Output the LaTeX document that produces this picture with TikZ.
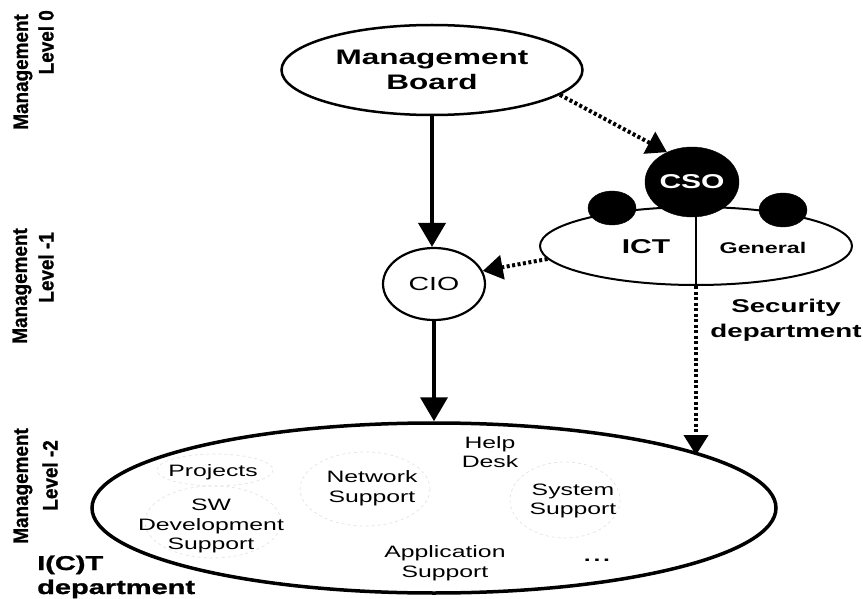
\documentclass[tikz,border=0pt]{standalone}
\usepackage{fontspec}
\setmainfont{Liberation Sans}
\newfontfamily\widesans[FakeStretch=1.5]{Liberation Sans}
\newfontfamily\heavysans[FakeStretch=1.45, FakeBold=1.2]{Liberation Sans Bold}
\newfontfamily\narrowsans[FakeStretch=0.9, FakeBold=0.8]{Liberation Sans Bold}
\usetikzlibrary{arrows.meta,shapes.geometric}

\tikzset{
  unit/.style={ellipse, draw, inner sep=0pt},
  solidarrow/.style={line width=4pt, -{Triangle[length=24pt,width=27pt]}},
  dotarrow/.style={line width=4pt, dash pattern=on 3pt off 2.5pt,
                   -{Triangle[length=20pt,width=24pt]}},
  lvl/.style={rotate=90, anchor=east, inner sep=0pt,
              font=\narrowsans\fontsize{21}{24}\selectfont},
  inner/.style={align=center, inner sep=0pt,
                font=\widesans\fontsize{16.5}{19.5}\selectfont},
  group/.style={draw=black!11, line width=0.7pt, dashed},
  deptlabel/.style={anchor=base west, inner sep=0pt,
                    font=\heavysans\fontsize{20}{24}\selectfont},
}

\begin{document}
\begin{tikzpicture}[x=1pt, y=-1pt]
\path[use as bounding box] (0,0) rectangle (863,599);

% management levels on the left
\node[lvl] (m0)  at (23,14)  {Management};
\node[lvl] (l0)  at (46,10)  {Level 0};
\node[lvl] (m1)  at (22,228) {Management};
\node[lvl] (l1)  at (46,232) {Level -1};
\node[lvl] (m2)  at (23,428) {Management};
\node[lvl] (l2)  at (50,440) {Level -2};

% I(C)T department
\node[unit, line width=3.5pt, minimum width=684pt, minimum height=170pt] (dept) at (434,508) {};
\draw[group] (215,470) ellipse [x radius=58, y radius=16];
\draw[group] (213,522) ellipse [x radius=68, y radius=36];
\draw[group] (365,489) ellipse [x radius=65, y radius=37];
\draw[group] (565,500) ellipse [x radius=55, y radius=38];

\node[inner] (proj) at (213,472) {Projects};
\node[inner] (swdev) at (211,526) {SW\\Development\\Support};
\node[inner] (net) at (372,488) {Network\\Support};
\node[inner] (help) at (490,452) {Help\\Desk};
\node[inner] (sys) at (573,501) {System\\Support};
\node[inner] (app) at (445,563) {Application\\Support};
\node[inner] (more) at (597,560) {\bfseries .\,.\,.};

\node[deptlabel] (ictlbl) at (37,570) {I(C)T};
\node[deptlabel] (deptlbl) at (37,594) {department};

% management board
\node[unit, line width=2.5pt, minimum width=301pt, minimum height=90pt, align=center,
      font=\widesans\bfseries\fontsize{21}{25}\selectfont] (board) at (432,70) {Management\\Board};

% CIO
\node[unit, line width=2.2pt, minimum width=102pt, minimum height=72pt,
      font=\widesans\fontsize{19}{22}\selectfont] (cio) at (434,284) {CIO};

% security department with CSO
\node[unit, line width=2pt, minimum width=312pt, minimum height=78pt] (secu) at (696,246) {};
\node[unit, fill=black, minimum width=94pt, minimum height=70pt, text=white,
      font=\widesans\bfseries\fontsize{20}{22}\selectfont] (cso) at (692,182) {CSO};
\node[unit, fill=black, minimum width=48pt, minimum height=34pt] (ictdot) at (612,208) {};
\node[unit, fill=black, minimum width=48pt, minimum height=34pt] (gendot) at (783,210) {};
\draw[line width=1.2pt] (secu.south |- cso.south) -- (secu.south);
\node[font=\widesans\bfseries\fontsize{20}{22}\selectfont] (ict) at (646,247) {ICT};
\node[font=\widesans\bfseries\fontsize{15.5}{18}\selectfont] (gen) at (763,248) {General};
\node[align=center, inner sep=0pt,
      font=\widesans\bfseries\fontsize{18.5}{25}\selectfont] (seclbl) at (786,320) {Security\\department};

% reporting lines
\draw[solidarrow] (board.south) -- (board.south |- cio.north);
\draw[solidarrow] (cio.south) -- (cio.south |- dept.north);
\draw[dotarrow] (board.-11) -- (cso.130);
\draw[dotarrow] (secu.185) -- (cio.15);
\draw[dotarrow] (secu.south) -- (secu.south |- dept.11.4);
\end{tikzpicture}
\end{document}
